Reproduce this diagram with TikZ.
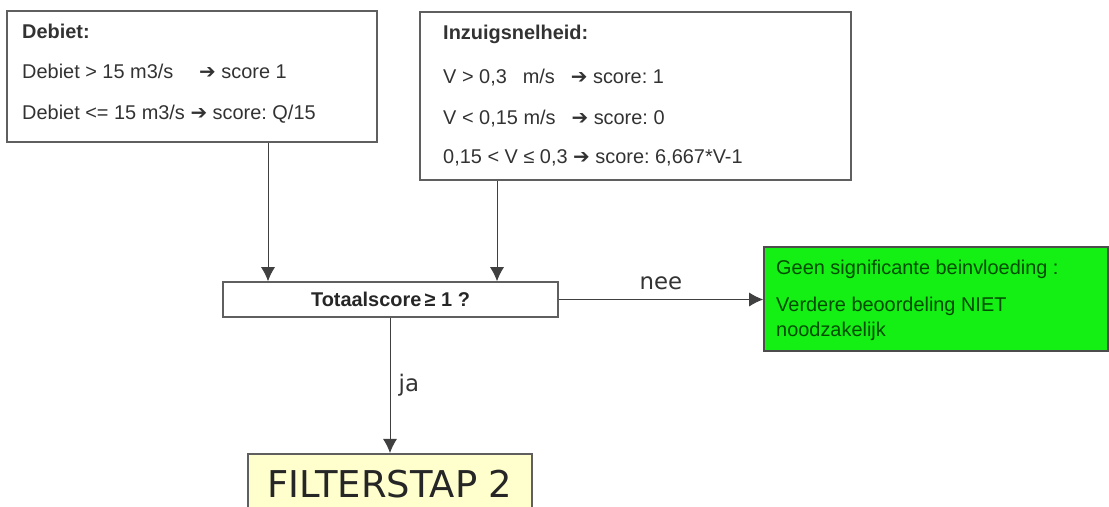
\documentclass[tikz,border=0pt]{standalone}
\usepackage{fontspec}
\setmainfont{Liberation Sans}
\newfontfamily\dejavu{DejaVu Sans}
\usetikzlibrary{arrows.meta}
\definecolor{lijn}{RGB}{95,95,95}
\definecolor{tekst}{RGB}{50,50,50}
\definecolor{groen}{RGB}{20,240,20}
\definecolor{groentekst}{RGB}{0,75,0}
\definecolor{geel}{RGB}{255,255,205}
\newcommand{\pijl}{{\dejavu\bfseries ➔}}
\frenchspacing

\begin{document}
\begin{tikzpicture}[x=0.03cm,y=-0.03cm,
  box/.style={draw=lijn, line width=1.3pt, inner sep=0pt},
  txt/.style={anchor=base west, inner sep=0pt, text=tekst, font=\fontsize{17}{21}\selectfont},
  pijlkop/.style={-{Latex[length=12pt,width=12pt]}, line width=0.8pt, draw=black!75}]
  \useasboundingbox (0,0) rectangle (1109,507);
  %kaders
  \node[box, minimum width=11.1cm, minimum height=3.93cm] (debiet) at (192,76.5) {};
  \node[box, minimum width=12.93cm, minimum height=5.04cm] (inzuig) at (635.5,96) {};
  \node[box, minimum width=10.05cm, minimum height=1.05cm, text=black!85,
    font=\bfseries\fontsize{17}{20}\selectfont] (totaal) at (390.5,299.5) {Totaalscore\,≥ 1 ?};
  \node[box, fill=groen, draw=black!70, minimum width=10.32cm, minimum height=3.12cm] (groen) at (936,299) {};
  \node[box, fill=geel, anchor=north, minimum width=8.52cm, inner ysep=0.5cm, text=black!85,
    font=\dejavu\fontsize{31.5}{36}\selectfont] (filter) at (390,453) {FILTERSTAP 2};

  %teksten
  \node[txt] (d0) at (22,38.5) {\textbf{Debiet:}};
  \node[txt] (d1) at (22,78.5) {Debiet > 15 m3/s\hspace{1.3em}\pijl{} score 1};
  \node[txt] (d2) at (22,119.5) {Debiet <= 15 m3/s \pijl{} score: Q/15};
  \node[txt] (v0) at (443,39.5) {\textbf{Inzuigsnelheid:}};
  \node[txt] (v1) at (443,83.5) {V > 0,3\hspace{0.8em}m/s\hspace{0.8em}\pijl{} score: 1};
  \node[txt] (v2) at (443,124.5) {V < 0,15 m/s\hspace{0.8em}\pijl{} score: 0};
  \node[txt] (v3) at (443,163.5) {0,15 < V ≤ 0,3 \pijl{} score: 6,667*V-1};
  \node[txt, text=groentekst] (g0) at (776,274) {Geen significante beinvloeding :};
  \node[txt, text=groentekst] (g1) at (776,311) {Verdere beoordeling NIET};
  \node[txt, text=groentekst] (g2) at (776,336) {noodzakelijk};

  %pijlen
  \coordinate (kol1) at (268,0);
  \coordinate (kol2) at (497,0);
  \draw[pijlkop] (debiet.south -| kol1) -- (totaal.north -| kol1);
  \draw[pijlkop] (inzuig.south -| kol2) -- (totaal.north -| kol2);
  \draw[pijlkop] (totaal.east) -- node[above=8pt, inner sep=0pt, font=\dejavu\fontsize{19.5}{22}\selectfont, text=black!80] (nee) {nee} (totaal.east -| groen.west);
  \draw[pijlkop] (totaal.south -| filter.north) -- node[right=7pt, inner sep=0pt, font=\dejavu\fontsize{19.5}{22}\selectfont, text=black!80] (ja) {ja} (filter.north);
\end{tikzpicture}
\end{document}
